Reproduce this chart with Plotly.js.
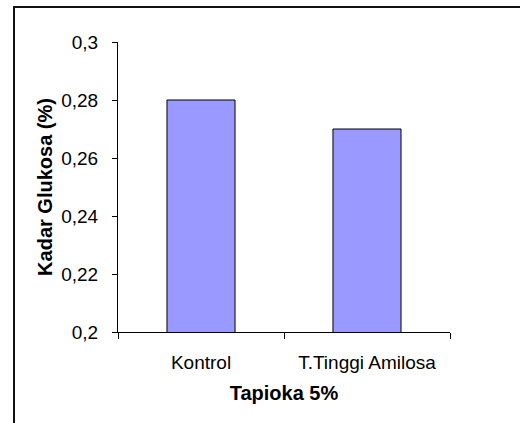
<!DOCTYPE html>
<html>
<head>
<meta charset="utf-8">
<script src="https://cdn.plot.ly/plotly-3.0.1.min.js"></script>
<style>
html,body{margin:0;padding:0;background:#fff;}
#chart{width:520px;height:423px;position:absolute;left:0;top:0;}
#frame{position:absolute;left:13px;top:6px;width:600px;height:600px;border-left:2px solid #111;border-top:2px solid #111;pointer-events:none;}
</style>
</head>
<body>
<div id="chart"></div>
<div id="frame"></div>
<script>
const categories = ["Kontrol", "T.Tinggi Amilosa"];
const glukosa = [0.28, 0.27];
const yTickVals = [0.2, 0.22, 0.24, 0.26, 0.28, 0.3];
const yTickText = ["0,2", "0,22", "0,24", "0,26", "0,28", "0,3"];
const xTitle = "Tapioka 5%";
const yTitle = "Kadar Glukosa (%)";

const trace = {
  type: "bar",
  x: categories,
  y: glukosa,
  marker: {color: "#9999FF", line: {color: "#000", width: 1}},
  hoverinfo: "none"
};

const font = {family: "Liberation Sans, Arial, sans-serif", color: "#000"};

const layout = {
  width: 520, height: 423,
  margin: {l: 118, r: 70, t: 41.5, b: 91.3},
  paper_bgcolor: "rgba(0,0,0,0)",
  plot_bgcolor: "#fff",
  showlegend: false,
  bargap: 0.59,
  font: Object.assign({size: 19}, font),
  xaxis: {
    type: "category",
    showline: true, linecolor: "#000", linewidth: 1,
    ticks: "outside", tickson: "boundaries", ticklen: 6, tickcolor: "#000", tickwidth: 1,
    tickfont: Object.assign({size: 19}, font),
    ticklabelstandoff: 13,
    showgrid: false, zeroline: false,
    title: {text: "<b>" + xTitle + "</b>", font: Object.assign({size: 20}, font), standoff: 14}
  },
  yaxis: {
    range: [0.2, 0.3],
    tickvals: yTickVals, ticktext: yTickText,
    showline: true, linecolor: "#000", linewidth: 1,
    ticks: "outside", ticklen: 5, tickcolor: "#000", tickwidth: 1,
    tickfont: Object.assign({size: 19}, font),
    ticklabelstandoff: 10,
    showgrid: false, zeroline: false,
    title: {text: "<b>" + yTitle + "</b>", font: Object.assign({size: 20}, font), standoff: 3}
  }
};

Plotly.newPlot("chart", [trace], layout, {displayModeBar: false, staticPlot: true});
</script>
</body>
</html>
